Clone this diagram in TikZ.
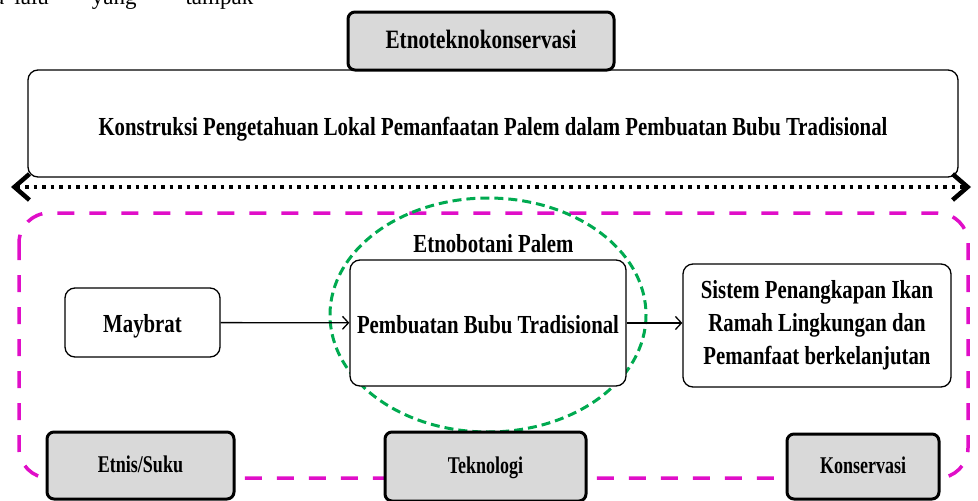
\documentclass[tikz,border=0pt]{standalone}
\usepackage{fontspec}
\setmainfont{Liberation Serif}
\newfontfamily\cf[FakeStretch=0.8]{Liberation Serif}
\newfontfamily\cfn[FakeStretch=0.75]{Liberation Serif}
\usetikzlibrary{arrows.meta}
\definecolor{boxgray}{RGB}{217,217,217}
\definecolor{magentaC}{RGB}{224,14,200}
\definecolor{greenC}{RGB}{0,170,80}
\tikzset{
  graybox/.style={draw, line width=3pt, fill=boxgray, rounded corners=7pt, inner sep=0pt,
    text height=16pt, text depth=2pt,
    font=\cfn\bfseries\fontsize{24}{26}\selectfont},
  whitebox/.style={draw, line width=1.3pt, fill=white, rounded corners=10pt, inner sep=0pt, align=center,
    font=\cf\bfseries\fontsize{26}{33}\selectfont},
  flowarrow/.style={line width=1.3pt, -{Straight Barb[length=6pt,width=13pt,line width=1.3pt]}},
  bigtip/.tip={Straight Barb[length=15pt,width=26pt,line width=4.5pt]},
}
\begin{document}
\begin{tikzpicture}[x=1pt,y=-1pt]
\useasboundingbox (0,0) rectangle (978,501);
\clip (0,0) rectangle (978,501);
% cropped caption fragment at the top
\node[anchor=base west, inner sep=0pt, font=\fontsize{23}{23}\selectfont] (frag) at (-6,4) {a\hspace{10pt}lalu\hspace{43pt}yang\hspace{49pt}tampak};
% magenta dashed frame
\draw[magentaC, line width=3.5pt, dash pattern=on 17pt off 15pt, rounded corners=30pt] (19,213) rectangle (968,478);
% green dashed ellipse
\draw[greenC, line width=3pt, dash pattern=on 9pt off 5pt] (488,315) ellipse [x radius=158, y radius=117];
% top boxes
\node[whitebox, minimum width=930pt, minimum height=107pt, text height=24pt, text depth=0pt] (top) at (493,123.5) {Konstruksi Pengetahuan Lokal Pemanfaatan Palem dalam Pembuatan Bubu Tradisional};
\node[graybox, minimum width=266pt, minimum height=58pt, text height=17pt, text depth=2pt, font=\cf\bfseries\fontsize{26.5}{30}\selectfont] (etk) at (481,41) {Etnoteknokonservasi};
% dotted double arrow
\coordinate (la) at (11,187);
\coordinate (ra) at (971,187);
\draw[line width=3.5pt, dash pattern=on 3.5pt off 5pt, {bigtip}-{bigtip}] (la) -- (ra);
% middle row
\node[font=\cf\bfseries\fontsize{26}{30}\selectfont, inner sep=0pt] (ebp) at (493.5,244) {Etnobotani Palem};
\node[whitebox, minimum width=155pt, minimum height=69pt, text height=20pt, text depth=0pt] (may) at (142.5,322.5) {Maybrat};
\node[whitebox, minimum width=276pt, minimum height=126pt, text height=22pt, text depth=1pt] (pbt) at (488,323) {Pembuatan Bubu Tradisional};
\node[whitebox, minimum width=268pt, minimum height=123pt] (sis) at (817,325.5) {Sistem Penangkapan Ikan\\Ramah Lingkungan dan\\Pemanfaat berkelanjutan};
\draw[flowarrow] (may) -- (pbt);
\draw[flowarrow] (pbt.east) -- (sis.west |- pbt.east);
% bottom labels
\node[graybox, minimum width=187pt, minimum height=67pt] (etn) at (140.5,465.5) {Etnis/Suku};
\node[graybox, minimum width=201pt, minimum height=69pt] (tek) at (485.5,466.5) {Teknologi};
\node[graybox, minimum width=152pt, minimum height=65pt] (kon) at (863,466.5) {Konservasi};
\end{tikzpicture}
\end{document}
